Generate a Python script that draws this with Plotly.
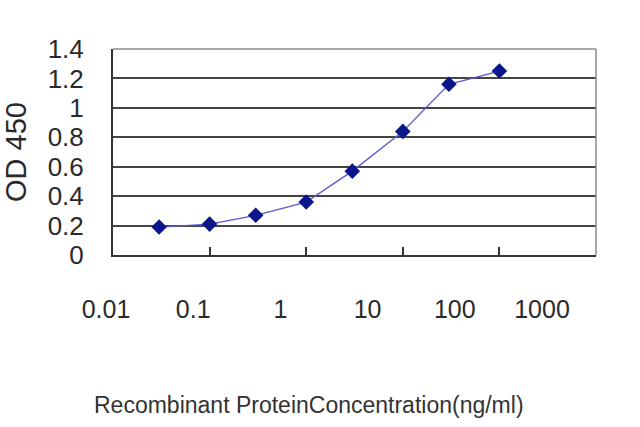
import plotly.graph_objects as go

# ELISA standard curve
concentration = [0.03, 0.1, 0.3, 1, 3, 10, 30, 100]
od450 = [0.19, 0.21, 0.27, 0.36, 0.57, 0.84, 1.16, 1.25]

y_ticks = [0, 0.2, 0.4, 0.6, 0.8, 1.0, 1.2, 1.4]
y_labels = ["0", "0.2", "0.4", "0.6", "0.8", "1", "1.2", "1.4"]
x_ticks = [0.01, 0.1, 1, 10, 100, 1000]
x_labels = ["0.01", "0.1", "1", "10", "100", "1000"]

font = "Liberation Sans, Arial, sans-serif"

fig = go.Figure()
fig.add_trace(go.Scatter(
    x=concentration,
    y=od450,
    mode="lines+markers",
    line=dict(color="#5a5ad2", width=1.3),
    marker=dict(symbol="diamond", size=12, color="#0a168a"),
    showlegend=False,
))
# carrier for the label axis (the original's labels sit on a slightly
# narrower scale than the tick marks)
fig.add_trace(go.Scatter(x=x_ticks, y=[None] * len(x_ticks), xaxis="x2",
                         yaxis="y2", showlegend=False, hoverinfo="skip"))

# light grey frame on top and right
fig.add_shape(type="line", xref="x domain", yref="y domain", x0=0, x1=1, y0=1, y1=1,
              line=dict(color="#8c8c8c", width=1.5))
fig.add_shape(type="line", xref="x domain", yref="y domain", x0=1, x1=1, y0=0, y1=1,
              line=dict(color="#8c8c8c", width=1.5))

fig.add_annotation(text="Recombinant ProteinConcentration(ng/ml)",
                   xref="paper", yref="paper", x=0.43, y=-0.80,
                   showarrow=False, font=dict(size=23, color="#333"))

fig.update_layout(
    width=640,
    height=427,
    margin=dict(l=90, r=40, t=49, b=172),
    paper_bgcolor="white",
    plot_bgcolor="rgba(0,0,0,0)",
    font=dict(family=font, color="#2a2a2a", size=25),
    xaxis=dict(
        type="log",
        domain=[0.0451, 0.9922],
        range=[-2, 3],
        tickvals=x_ticks,
        showticklabels=False,
        ticks="inside",
        ticklen=8,
        tickcolor="#333",
        tickwidth=1.5,
        showgrid=False,
        showline=True,
        linecolor="#333",
        linewidth=2,
        zeroline=False,
        automargin=False,
    ),
    xaxis2=dict(
        type="log",
        anchor="y2",
        side="bottom",
        domain=[0, 1],
        range=[-2.1835, 3.665],
        tickvals=x_ticks,
        ticktext=x_labels,
        ticks="",
        ticklabelstandoff=37,
        tickfont=dict(size=25),
        showgrid=False,
        showline=False,
        zeroline=False,
        automargin=False,
    ),
    yaxis=dict(
        range=[0, 1.4],
        tickvals=y_ticks,
        ticktext=y_labels,
        showgrid=True,
        gridcolor="#444",
        gridwidth=1.8,
        showline=True,
        linecolor="#333",
        linewidth=2,
        ticks="",
        ticklabelstandoff=22,
        tickfont=dict(size=26),
        title=dict(text="OD 450", font=dict(size=29), standoff=12),
        zeroline=False,
        automargin=False,
    ),
    yaxis2=dict(
        anchor="x2",
        domain=[0, 1],
        range=[0, 1.4],
        visible=False,
    ),
)

fig.write_html("out.html", config={"displayModeBar": False},
               post_script="document.body.style.margin='0';")
